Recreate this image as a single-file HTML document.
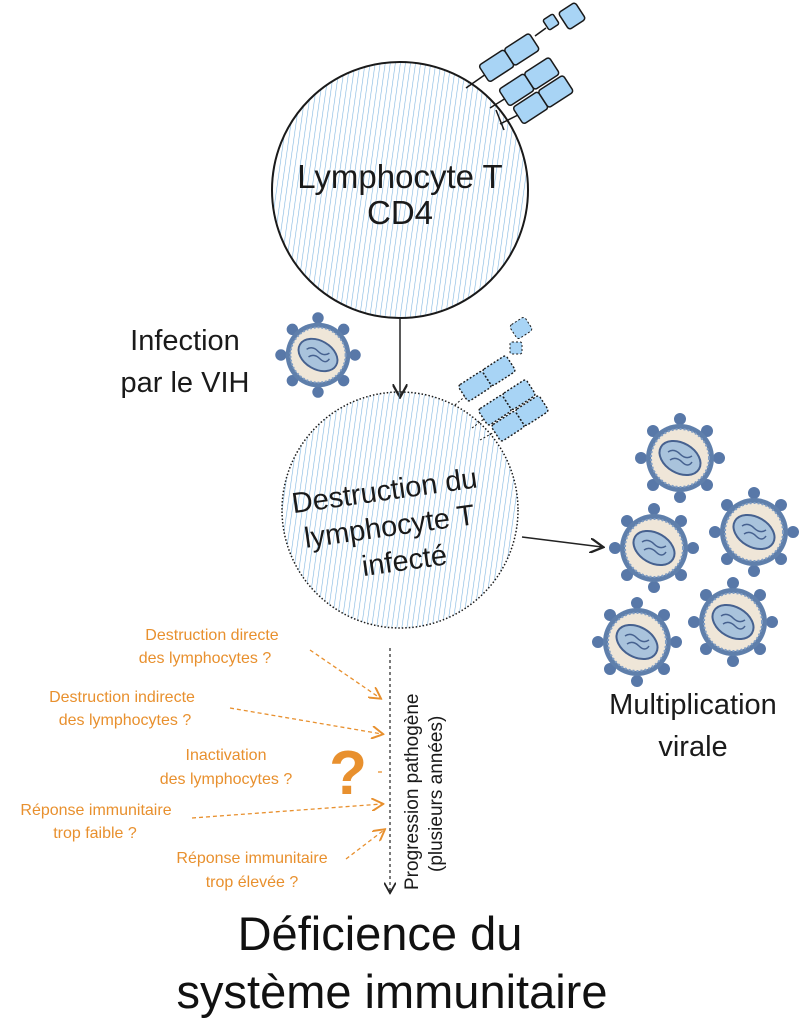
<!DOCTYPE html>
<html><head><meta charset="utf-8"><style>
body{margin:0;background:#fff}
svg{display:block}
text{font-family:"Liberation Sans",sans-serif}
</style></head><body>
<svg width="808" height="1024" viewBox="0 0 808 1024" xmlns="http://www.w3.org/2000/svg">
<defs>
<pattern id="h" width="5" height="5" patternUnits="userSpaceOnUse" patternTransform="rotate(8)">
<line x1="0" y1="0" x2="0" y2="5" stroke="#7fb5e0" stroke-width="1.2"/>
</pattern>
<g id="v">
<g stroke="#5878a8" stroke-width="4" fill="#5878a8">
<line x1="0" y1="-38" x2="0" y2="38"/><line x1="-38" y1="0" x2="38" y2="0"/>
<line x1="-27" y1="-27" x2="27" y2="27"/><line x1="-27" y1="27" x2="27" y2="-27"/>
<circle cx="0" cy="-39" r="4"/><circle cx="0" cy="39" r="4"/><circle cx="39" cy="0" r="4"/><circle cx="-39" cy="0" r="4"/>
<circle cx="27" cy="27" r="4"/><circle cx="-27" cy="27" r="4"/><circle cx="27" cy="-27" r="4"/><circle cx="-27" cy="-27" r="4"/>
</g>
<circle r="34" fill="#5f7fab"/>
<circle r="29" fill="#efe6d8" stroke="#7f9cc2" stroke-width="2" stroke-dasharray="2 2"/>
<ellipse rx="22" ry="15" transform="rotate(30)" fill="#a9c3dc" stroke="#46618f" stroke-width="2"/>
<path d="M-12 -6 q6 -4 12 2 t12 2 M-10 2 q6 -4 12 2 t10 0" stroke="#46618f" stroke-width="1.5" fill="none"/>
</g>
<g id="rc" fill="#a8d4f5" stroke="#1a1a1a" stroke-width="1.5">
<rect x="0" y="-10" width="30" height="20" rx="3"/><rect x="30" y="-10" width="30" height="20" rx="3"/>
</g>
<marker id="a" markerWidth="10" markerHeight="10" refX="8" refY="5" orient="auto"><path d="M0 0 L9 5 L0 10" fill="none" stroke="#222" stroke-width="1.5"/></marker>
<marker id="ao" markerWidth="10" markerHeight="10" refX="8" refY="5" orient="auto"><path d="M0 0 L9 5 L0 10" fill="none" stroke="#e8902e" stroke-width="1.5"/></marker>
</defs>

<circle cx="400" cy="190" r="128" fill="url(#h)" stroke="#1a1a1a" stroke-width="2"/>
<g stroke="#1a1a1a" stroke-width="1.5">
<line x1="466" y1="88" x2="486" y2="74"/><line x1="490" y1="108" x2="506" y2="98"/><line x1="500" y1="124" x2="520" y2="114"/><line x1="496" y1="110" x2="504" y2="130"/>
</g>
<use href="#rc" transform="translate(484,74) rotate(-33)"/>
<use href="#rc" transform="translate(504,98) rotate(-33)"/>
<use href="#rc" transform="translate(518,116) rotate(-33)"/>
<rect x="545" y="16" width="12" height="12" rx="2" fill="#a8d4f5" stroke="#1a1a1a" stroke-width="1.5" transform="rotate(-33 551 22)"/>
<rect x="562" y="6" width="20" height="20" rx="3" fill="#a8d4f5" stroke="#1a1a1a" stroke-width="1.5" transform="rotate(-33 572 16)"/>
<line x1="535" y1="36" x2="546" y2="28" stroke="#1a1a1a" stroke-width="1.5"/>
<text x="400" y="188" font-size="33" text-anchor="middle" fill="#1a1a1a">Lymphocyte T</text>
<text x="400" y="224" font-size="33" text-anchor="middle" fill="#1a1a1a">CD4</text>

<line x1="400" y1="318" x2="400" y2="396" stroke="#222" stroke-width="1.5" marker-end="url(#a)"/>

<text x="185" y="350" font-size="29" text-anchor="middle" fill="#1a1a1a">Infection</text>
<text x="185" y="392" font-size="29" text-anchor="middle" fill="#1a1a1a">par le VIH</text>
<use href="#v" transform="translate(318,355) scale(0.95)"/>

<circle cx="400" cy="510" r="118" fill="url(#h)" stroke="#1a1a1a" stroke-width="1.5" stroke-dasharray="1.5 2"/>
<g stroke="#1a1a1a" stroke-width="1" stroke-dasharray="2 2">
<line x1="455" y1="405" x2="470" y2="392"/><line x1="472" y1="428" x2="488" y2="416"/><line x1="480" y1="440" x2="498" y2="430"/>
</g>
<g stroke-dasharray="2 2"><use href="#rc" transform="translate(463,394) rotate(-33) scale(0.95)"/>
<use href="#rc" transform="translate(483,418) rotate(-33) scale(0.95)"/>
<use href="#rc" transform="translate(496,434) rotate(-33) scale(0.95)"/></g>
<rect x="512" y="320" width="18" height="16" rx="3" fill="#a8d4f5" stroke="#1a1a1a" stroke-width="1" stroke-dasharray="2 2" transform="rotate(-33 521 328)"/>
<rect x="510" y="342" width="12" height="12" rx="2" fill="#a8d4f5" stroke="#1a1a1a" stroke-width="1" stroke-dasharray="2 2"/>
<text x="390" y="500" font-size="29" text-anchor="middle" fill="#1a1a1a" transform="rotate(-8 390 530)">Destruction du</text>
<text x="390" y="536" font-size="29" text-anchor="middle" fill="#1a1a1a" transform="rotate(-8 390 530)">lymphocyte T</text>
<text x="400" y="572" font-size="29" text-anchor="middle" fill="#1a1a1a" transform="rotate(-8 390 530)">infecté</text>

<line x1="522" y1="537" x2="602" y2="547" stroke="#222" stroke-width="1.5" marker-end="url(#a)"/>

<use href="#v" transform="translate(680,458)"/>
<use href="#v" transform="translate(654,548)"/>
<use href="#v" transform="translate(754,532)"/>
<use href="#v" transform="translate(733,622)"/>
<use href="#v" transform="translate(637,642)"/>
<text x="693" y="714" font-size="29" text-anchor="middle" fill="#1a1a1a">Multiplication</text>
<text x="693" y="756" font-size="29" text-anchor="middle" fill="#1a1a1a">virale</text>

<line x1="390" y1="648" x2="390" y2="892" stroke="#222" stroke-width="1.2" stroke-dasharray="3 3" marker-end="url(#a)"/>
<text transform="translate(418,890) rotate(-90)" font-size="19" fill="#1a1a1a">Progression pathogène</text>
<text transform="translate(442,872) rotate(-90)" font-size="19" fill="#1a1a1a">(plusieurs années)</text>

<g fill="#e8902e" font-size="16" text-anchor="middle">
<text x="212" y="640">Destruction directe</text>
<text x="205" y="663">des lymphocytes ?</text>
<text x="122" y="702">Destruction indirecte</text>
<text x="125" y="725">des lymphocytes ?</text>
<text x="226" y="760">Inactivation</text>
<text x="226" y="784">des lymphocytes ?</text>
<text x="96" y="815">Réponse immunitaire</text>
<text x="95" y="838">trop faible ?</text>
<text x="252" y="863">Réponse immunitaire</text>
<text x="252" y="887">trop élevée ?</text>
<text x="348" y="794" font-size="62" font-weight="bold">?</text>
</g>
<g stroke="#e8902e" stroke-width="1.3" stroke-dasharray="4 3" fill="none">
<line x1="310" y1="650" x2="380" y2="698" marker-end="url(#ao)"/>
<line x1="230" y1="708" x2="382" y2="734" marker-end="url(#ao)"/>
<line x1="192" y1="818" x2="382" y2="804" marker-end="url(#ao)"/>
<line x1="346" y1="859" x2="384" y2="830" marker-end="url(#ao)"/>
<line x1="378" y1="772" x2="382" y2="772"/>
</g>

<text x="380" y="950" font-size="47" text-anchor="middle" fill="#111">Déficience du</text>
<text x="392" y="1008" font-size="47" text-anchor="middle" fill="#111">système immunitaire</text>
</svg>
</body></html>
